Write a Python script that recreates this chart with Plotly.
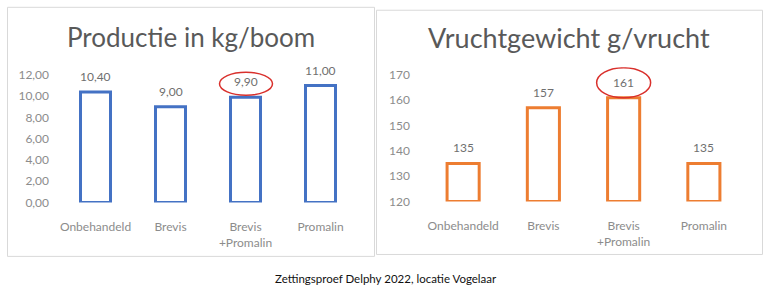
import plotly.graph_objects as go

categories = ["Onbehandeld", "Brevis", "Brevis<br>+Promalin", "Promalin"]
productie = [10.40, 9.00, 9.90, 11.00]
vruchtgewicht = [135, 157, 161, 135]
prod_ticks = [0, 2, 4, 6, 8, 10, 12]
gew_ticks = [120, 130, 140, 150, 160, 170]
highlight = "Brevis<br>+Promalin"

W, H = 768, 296
BLUE = "#4472C4"
ORANGE = "#ED7D31"
GRAY_TXT = "#8c8c8c"
TITLE = "#595959"
FONT = "Lato"

def px(x):
    return x / W

def py(y):
    return 1 - y / H

fig = go.Figure()

fig.add_trace(go.Bar(
    x=categories, y=productie, xaxis="x", yaxis="y",
    width=0.4,
    marker=dict(color="white", line=dict(color=BLUE, width=3)),
    hoverinfo="skip",
))
fig.add_trace(go.Bar(
    x=categories, y=[v - 120 for v in vruchtgewicht], base=120,
    xaxis="x2", yaxis="y2",
    width=0.4,
    marker=dict(color="white", line=dict(color=ORANGE, width=3)),
    hoverinfo="skip",
))

hi = categories.index(highlight)

shapes = [
    # panel borders
    dict(type="rect", xref="paper", yref="paper", x0=px(7.5), x1=px(374.5), y0=py(262.5), y1=py(6.5),
         line=dict(color="#d9d9d9", width=1), fillcolor="rgba(0,0,0,0)", layer="below"),
    dict(type="rect", xref="paper", yref="paper", x0=px(376.5), x1=px(762.5), y0=py(260.5), y1=py(9.5),
         line=dict(color="#d9d9d9", width=1), fillcolor="rgba(0,0,0,0)", layer="below"),
    # highlight ellipses
    dict(type="circle", xref="x", yref="y", xsizemode="pixel", ysizemode="pixel",
         xanchor=hi, yanchor=productie[hi], x0=-26, x1=27, y0=2, y1=25,
         line=dict(color="#d9302c", width=1.5)),
    dict(type="circle", xref="x2", yref="y2", xsizemode="pixel", ysizemode="pixel",
         xanchor=hi, yanchor=vruchtgewicht[hi], x0=-27, x1=27, y0=0, y1=30,
         line=dict(color="#d9302c", width=1.5)),
]

label_font = dict(family=FONT, size=12, color="#6f6f6f")
annotations = [
    dict(text="Productie in kg/boom", xref="paper", yref="paper", x=px(191), y=py(37),
         xanchor="center", yanchor="middle", showarrow=False,
         font=dict(family=FONT, size=26, color=TITLE)),
    dict(text="Vruchtgewicht g/vrucht", xref="paper", yref="paper", x=px(569), y=py(37),
         xanchor="center", yanchor="middle", showarrow=False,
         font=dict(family=FONT, size=27, color=TITLE)),
    dict(text="Zettingsproef Delphy 2022, locatie Vogelaar", xref="paper", yref="paper",
         x=px(386), y=py(285), xanchor="center", yanchor="middle", showarrow=False,
         font=dict(family=FONT, size=11.5, color="#111111")),
]
for c, v in zip(categories, productie):
    annotations.append(dict(text=f"{v:.2f}".replace(".", ","), x=c, y=v, xref="x", yref="y",
                            xanchor="center", yanchor="bottom", yshift=6, showarrow=False,
                            font=label_font))
for c, v in zip(categories, vruchtgewicht):
    annotations.append(dict(text=str(v), x=c, y=v, xref="x2", yref="y2",
                            xanchor="center", yanchor="bottom", yshift=6, showarrow=False,
                            font=label_font))

axis_font = dict(family=FONT, size=12, color=GRAY_TXT)

# pixel scale: left 0->207px, 12->76px ; right 120->206px, 170->76px
L_TOP = 12.6
R_TOP = 173
l_scale = (207 - 76) / 12
r_scale = (206 - 76) / 50

fig.update_layout(
    width=W, height=H,
    margin=dict(l=0, r=0, t=0, b=0),
    paper_bgcolor="white", plot_bgcolor="white",
    separators=",.",
    showlegend=False,
    bargap=0.6,
    xaxis=dict(domain=[px(58), px(358)], anchor="y", tickfont=axis_font,
               showline=False, showgrid=False, ticks="", ticklen=0, ticklabelstandoff=16),
    yaxis=dict(domain=[py(207), py(207 - L_TOP * l_scale)], anchor="x", range=[0, L_TOP],
               tickvals=prod_ticks, tickformat=".2f", tickfont=axis_font,
               showgrid=False, zeroline=False, showline=False, ticks="", ticklabelstandoff=8),
    xaxis2=dict(domain=[px(423), px(744)], anchor="y2", tickfont=axis_font,
                showline=False, showgrid=False, ticks="", ticklen=0, ticklabelstandoff=16),
    yaxis2=dict(domain=[py(206), py(206 - (R_TOP - 120) * r_scale)], anchor="x2", range=[120, R_TOP],
                tickvals=gew_ticks, tickfont=axis_font,
                showgrid=False, zeroline=False, showline=False, ticks="", ticklabelstandoff=12),
    shapes=shapes,
    annotations=annotations,
)

fig.write_html("out.html")
